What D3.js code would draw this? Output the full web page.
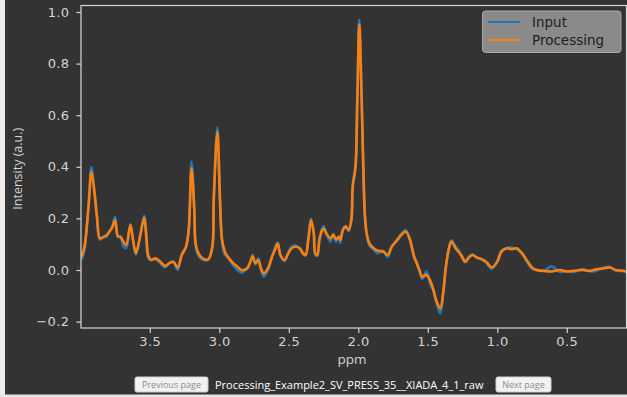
<!DOCTYPE html>
<html><head><meta charset="utf-8">
<script src="https://cdn.jsdelivr.net/npm/d3@7"></script>
<style>body{margin:0;background:#333;} svg{display:block;}</style>
</head><body>
<script>
// ---- data ----
const ppm = [3.99,3.97,3.94,3.92,3.90,3.88,3.86,3.84,3.81,3.79,3.77,3.75,3.73,3.71,3.69,3.67,3.64,3.62,3.60,3.57,3.54,3.525,3.51,3.49,3.46,3.43,3.39,3.36,3.33,3.30,3.27,3.24,3.22,3.20,3.18,3.17,3.15,3.12,3.08,3.05,3.04,3.014,2.995,2.98,2.96,2.94,2.91,2.87,2.84,2.80,2.78,2.76,2.74,2.72,2.70,2.68,2.65,2.62,2.60,2.58,2.56,2.53,2.51,2.48,2.45,2.42,2.40,2.38,2.36,2.34,2.32,2.31,2.295,2.28,2.26,2.25,2.23,2.20,2.18,2.16,2.14,2.13,2.11,2.09,2.07,2.05,2.04,2.02,2.007,1.993,1.976,1.964,1.952,1.94,1.92,1.89,1.86,1.82,1.79,1.76,1.72,1.69,1.66,1.63,1.60,1.58,1.56,1.54,1.51,1.48,1.46,1.44,1.41,1.39,1.37,1.35,1.33,1.30,1.28,1.26,1.23,1.21,1.18,1.15,1.11,1.08,1.04,1.00,0.97,0.93,0.90,0.86,0.82,0.79,0.75,0.72,0.67,0.61,0.55,0.50,0.45,0.39,0.33,0.29,0.24,0.19,0.15,0.10,0.07];
const processing = [0.052,0.09,0.25,0.381,0.31,0.207,0.123,0.127,0.136,0.149,0.165,0.194,0.132,0.127,0.11,0.097,0.174,0.116,0.065,0.13,0.203,0.13,0.054,0.039,0.045,0.035,0.016,0.026,0.032,0.01,0.058,0.09,0.155,0.394,0.233,0.10,0.065,0.045,0.041,0.09,0.271,0.536,0.27,0.116,0.071,0.052,0.032,0.013,0.0,0.006,0.026,0.052,0.026,0.039,0.006,-0.013,0.006,0.052,0.078,0.103,0.058,0.039,0.058,0.084,0.09,0.084,0.065,0.058,0.116,0.194,0.142,0.065,0.058,0.116,0.155,0.161,0.142,0.123,0.136,0.119,0.129,0.116,0.155,0.168,0.155,0.194,0.323,0.40,0.659,0.95,0.659,0.40,0.207,0.142,0.103,0.084,0.075,0.071,0.058,0.09,0.116,0.136,0.149,0.12,0.055,0.026,0.0,-0.026,-0.019,-0.045,-0.078,-0.116,-0.149,-0.09,0.013,0.078,0.11,0.084,0.071,0.058,0.032,0.045,0.058,0.049,0.041,0.032,0.01,0.032,0.071,0.084,0.081,0.084,0.062,0.039,0.01,0.0,-0.003,-0.006,0.0,-0.006,-0.003,0.0,-0.003,0.003,0.006,0.010,0.0,-0.003,-0.006];
const input = [0.04,0.08,0.26,0.398,0.31,0.20,0.118,0.125,0.13,0.15,0.17,0.205,0.128,0.13,0.09,0.085,0.178,0.11,0.06,0.132,0.21,0.125,0.045,0.04,0.042,0.03,0.01,0.028,0.03,0.0,0.06,0.088,0.16,0.42,0.235,0.095,0.055,0.04,0.04,0.092,0.275,0.553,0.265,0.11,0.06,0.05,0.025,0.0,-0.01,0.008,0.028,0.06,0.022,0.045,0.0,-0.025,0.0,0.055,0.085,0.105,0.055,0.035,0.06,0.09,0.095,0.08,0.07,0.055,0.12,0.198,0.135,0.06,0.055,0.12,0.16,0.17,0.14,0.11,0.14,0.11,0.13,0.105,0.16,0.17,0.15,0.20,0.33,0.41,0.67,0.969,0.66,0.39,0.20,0.14,0.095,0.08,0.065,0.075,0.05,0.088,0.12,0.14,0.155,0.12,0.05,0.03,-0.005,-0.035,-0.005,-0.06,-0.075,-0.125,-0.168,-0.095,0.01,0.08,0.115,0.09,0.078,0.055,0.03,0.048,0.06,0.05,0.04,0.028,0.005,0.035,0.075,0.085,0.088,0.08,0.065,0.035,0.005,0.002,-0.005,0.014,-0.008,-0.004,-0.008,0.004,-0.006,-0.003,0.008,0.012,-0.002,-0.004,-0.008];
const yTicks = [-0.2,0.0,0.2,0.4,0.6,0.8,1.0];
const xTicks = [3.5,3.0,2.5,2.0,1.5,1.0,0.5];
const seriesNames = ["Input","Processing"];
const seriesColors = ["#1f77b4","#ff7f0e"];
const fileName = "Processing_Example2_SV_PRESS_35__XIADA_4_1_raw";

// ---- layout ----
const W = 627, H = 397;
const L = 81, R = 627, T = 5.5, B = 328;
const svg = d3.select("body").append("svg").attr("width", W).attr("height", H);
svg.append("rect").attr("width", W).attr("height", H).attr("fill", "#333333");
svg.append("rect").attr("x",0).attr("y",0).attr("width",5).attr("height",H).attr("fill","#ececec");
svg.append("rect").attr("x",0).attr("y",394.5).attr("width",W).attr("height",3).attr("fill","#e6e6e6");

const x = d3.scaleLinear().domain([3.995, 0.067]).range([L, R]);
const y = d3.scaleLinear().domain([-0.2248, 1.0252]).range([B, T]);

svg.append("clipPath").attr("id","clip").append("rect")
  .attr("x",L).attr("y",T).attr("width",R-L).attr("height",B-T);

const line = d3.line().x((d,i)=>x(ppm[i])).y(d=>y(d)).curve(d3.curveCatmullRom.alpha(0.5));
const g = svg.append("g").attr("clip-path","url(#clip)");
g.append("path").attr("d", line(input)).attr("fill","none")
  .attr("stroke",seriesColors[0]).attr("stroke-width",2.6).attr("stroke-linejoin","round");
g.append("path").attr("d", line(processing)).attr("fill","none")
  .attr("stroke",seriesColors[1]).attr("stroke-width",2.6).attr("stroke-linejoin","round");

// frame
svg.append("rect").attr("x",L).attr("y",T).attr("width",R-L-0.5).attr("height",B-T)
  .attr("fill","none").attr("stroke","#d8d8d8").attr("stroke-width",1.2);

const tickColor = "#d4d4d4";
const fontTick = "DejaVu Sans, sans-serif";
const ya = svg.append("g").attr("transform",`translate(${L},0)`)
  .call(d3.axisLeft(y).tickValues(yTicks).tickFormat(d3.format(".1f")).tickSize(4.5).tickPadding(7));
const xa = svg.append("g").attr("transform",`translate(0,${B})`)
  .call(d3.axisBottom(x).tickValues(xTicks).tickFormat(d3.format(".1f")).tickSize(5).tickPadding(4));
[ya,xa].forEach(a=>{
  a.select(".domain").remove();
  a.selectAll("line").attr("stroke",tickColor).attr("stroke-width",1.2);
  a.selectAll("text").attr("fill",tickColor).attr("font-family",fontTick).attr("font-size",13).attr("letter-spacing","0.4px");
});

// axis labels
svg.append("text").attr("x",(L+R)/2 - 2).attr("y",364).attr("text-anchor","middle")
  .attr("fill",tickColor).attr("font-family","Open Sans, sans-serif").attr("font-size",13.5).text("ppm");
svg.append("text").attr("transform",`translate(22,${(T+B)/2+2}) rotate(-90)`).attr("text-anchor","middle")
  .attr("fill",tickColor).attr("font-family","Open Sans, sans-serif").attr("font-size",12.5).text("Intensity (a.u.)");

// legend
const lg = svg.append("g");
lg.append("rect").attr("x",482.5).attr("y",11).attr("width",138.5).attr("height",41.5).attr("rx",3)
  .attr("fill","#8a8a8a").attr("stroke","#a8a8a8").attr("stroke-width",1);
seriesNames.forEach((n,i)=>{
  const yy = 22 + i*18;
  lg.append("line").attr("x1",488).attr("x2",520).attr("y1",yy).attr("y2",yy)
    .attr("stroke",seriesColors[i]).attr("stroke-width",2);
  lg.append("text").attr("x",532).attr("y",yy+5).attr("fill","#1e1e1e")
    .attr("font-family",fontTick).attr("font-size",13.5).text(n);
});

// bottom bar
const btn = (x0,w,label)=>{
  svg.append("rect").attr("x",x0).attr("y",377).attr("width",w).attr("height",15).attr("rx",2)
    .attr("fill","#f2f2f2").attr("stroke","#d0d0d0");
  svg.append("text").attr("x",x0+w/2).attr("y",388).attr("text-anchor","middle")
    .attr("fill","#8a8a8a").attr("font-family","Open Sans, sans-serif").attr("font-size",9).text(label);
};
btn(135,73,"Previous page");
btn(496,55,"Next page");
svg.append("text").attr("x",215).attr("y",389).attr("fill","#ffffff")
  .attr("font-family","Open Sans, sans-serif").attr("font-size",11).text(fileName);
</script>
</body></html>
